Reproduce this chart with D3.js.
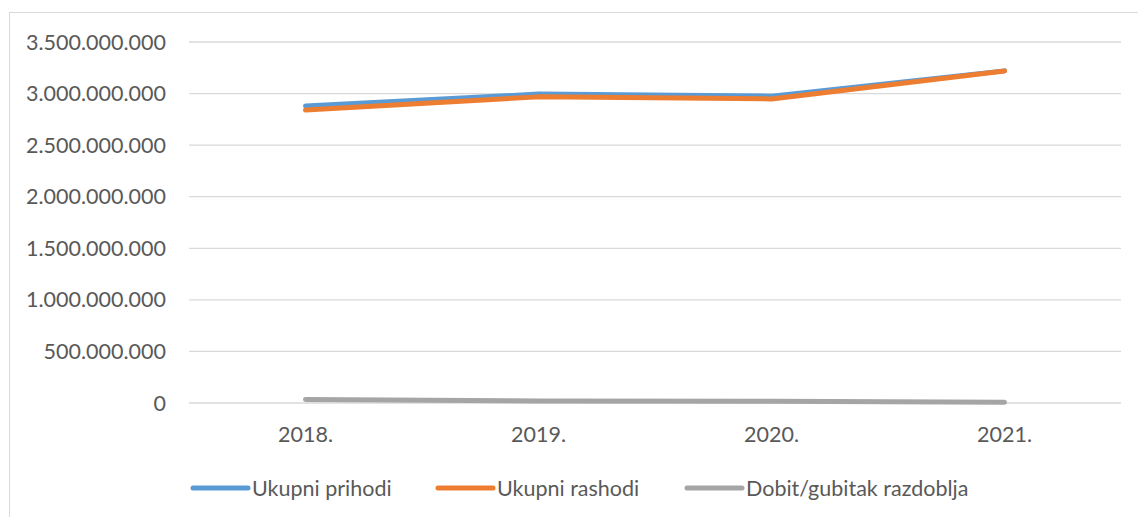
<!DOCTYPE html>
<html>
<head>
<meta charset="utf-8">
<script src="https://cdn.jsdelivr.net/npm/d3@7"></script>
<style>
  body { margin: 0; background: #fff; }
  svg { display: block; font-family: Lato, "Open Sans", sans-serif; }
</style>
</head>
<body>
<div id="container"></div>
<script>
// podaci s grafikona
const years = ['2018.', '2019.', '2020.', '2021.'];
const prihodi = [2880000000, 2995000000, 2975000000, 3220000000];
const rashodi = [2840000000, 2968000000, 2948000000, 3218000000];
const dobit = [33000000, 20000000, 16000000, 8000000];
const yTicks = [0, 500000000, 1000000000, 1500000000, 2000000000, 2500000000, 3000000000, 3500000000];

const series = [
  { name: 'Ukupni prihodi', values: prihodi, color: '#5B9BD5' },
  { name: 'Ukupni rashodi', values: rashodi, color: '#ED7D31' },
  { name: 'Dobit/gubitak razdoblja', values: dobit, color: '#A5A5A5' }
];

const width = 1138, height = 517;
const plot = { left: 189, right: 1121, top: 42, bottom: 403 };
const fontSize = 21.5;

const svg = d3.select('#container').append('svg')
  .attr('width', width)
  .attr('height', height);

// okvir
svg.append('rect')
  .attr('x', 9.5).attr('y', 12.5)
  .attr('width', 1140).attr('height', 520)
  .attr('fill', 'none')
  .attr('stroke', '#d9d9d9');

const x = d3.scaleBand()
  .domain(years)
  .range([plot.left, plot.right]);
const y = d3.scaleLinear()
  .domain([0, 3500000000])
  .range([plot.bottom, plot.top]);

const fmt = v => d3.format(',')(v).replace(/,/g, '.');

// mreža
svg.append('g')
  .selectAll('line')
  .data(yTicks)
  .join('line')
    .attr('x1', plot.left).attr('x2', plot.right)
    .attr('y1', d => y(d)).attr('y2', d => y(d))
    .attr('stroke', '#d9d9d9')
    .attr('stroke-width', 1.3);

// oznake osi y
svg.append('g')
  .selectAll('text')
  .data(yTicks)
  .join('text')
    .attr('x', 166)
    .attr('y', d => y(d))
    .attr('dy', '0.35em')
    .attr('text-anchor', 'end')
    .attr('fill', '#595959')
    .attr('font-size', fontSize)
    .text(fmt);

// oznake osi x
svg.append('g')
  .selectAll('text')
  .data(years)
  .join('text')
    .attr('x', d => x(d) + x.bandwidth() / 2)
    .attr('y', 434.5)
    .attr('dy', '0.35em')
    .attr('text-anchor', 'middle')
    .attr('fill', '#595959')
    .attr('font-size', fontSize)
    .text(d => d);

// linije
const line = d3.line()
  .x((d, i) => x(years[i]) + x.bandwidth() / 2)
  .y(d => y(d));

svg.append('g')
  .selectAll('path')
  .data(series)
  .join('path')
    .attr('d', d => line(d.values))
    .attr('fill', 'none')
    .attr('stroke', d => d.color)
    .attr('stroke-width', 5)
    .attr('stroke-linecap', 'round')
    .attr('stroke-linejoin', 'round');

// legenda
const legendX = [193, 438, 687];
const legend = svg.append('g')
  .selectAll('g')
  .data(series)
  .join('g')
    .attr('transform', (d, i) => `translate(${legendX[i]},488)`);
legend.append('line')
  .attr('x1', 0).attr('x2', 55)
  .attr('stroke', d => d.color)
  .attr('stroke-width', 5)
  .attr('stroke-linecap', 'round');
legend.append('text')
  .attr('x', 59)
  .attr('dy', '0.35em')
  .attr('fill', '#595959')
  .attr('font-size', fontSize)
  .text(d => d.name);
</script>
</body>
</html>
